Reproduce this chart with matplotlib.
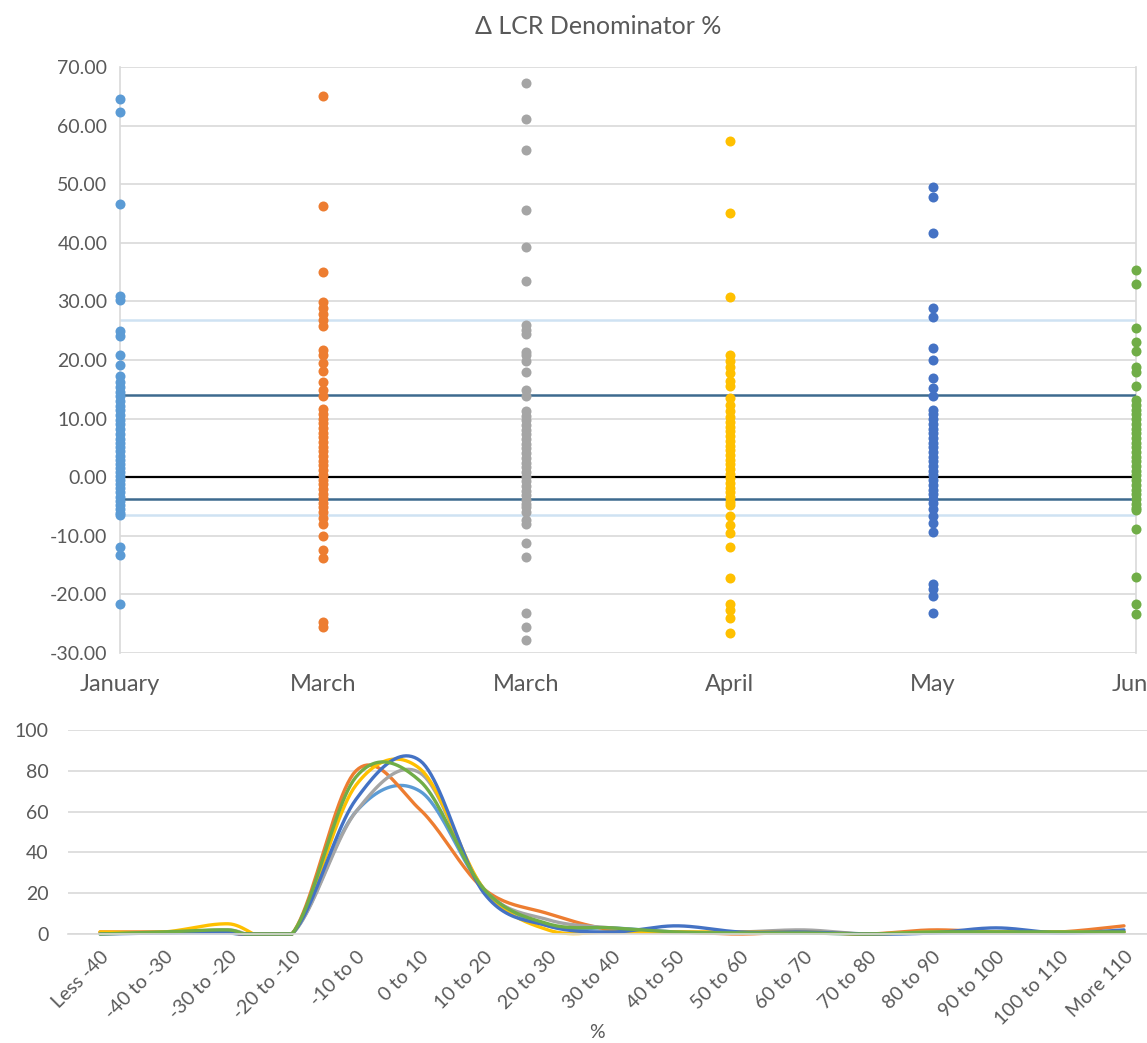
import numpy as np
import matplotlib.pyplot as plt

plt.rcParams['font.family'] = ['Lato', 'DejaVu Sans']

# top chart: one strip of points per month
months = ['January', 'March', 'March', 'April', 'May', 'June']
month_colors = ['#5B9BD5', '#ED7D31', '#A5A5A5', '#FFC000', '#4472C4', '#70AD47']

jan = [64.6, 62.3, 46.6, 31.0, 30.3, 25.0, 24.1, 20.8, 19.2, 17.2, 16.2, 15.4, 14.6, 13.8,
       13.0, 12.2, 11.4, 10.6, 9.8, 9.0, 8.2, 7.4, 6.6, 5.8, 5.1, 4.4, 3.7, 3.0, 2.3, 1.6,
       0.9, 0.2, -0.5, -1.2, -1.9, -2.6, -3.3, -4.0, -4.7, -5.4, -6.1, -6.4, -11.9, -13.3, -21.7]
mar1 = [65.1, 46.3, 35.1, 29.9, 28.9, 27.9, 26.9, 25.8, 21.7, 20.8, 19.5, 18.2, 16.2, 14.9,
        13.9, 11.6, 10.8, 10.0, 9.2, 8.4, 7.6, 6.8, 6.0, 5.2, 4.4, 3.6, 2.8, 2.0, 1.2, 0.4,
        -0.4, -1.2, -2.0, -2.8, -3.6, -4.4, -5.0, -6.0, -7.0, -8.0, -10.1, -12.5, -13.8, -24.7, -25.6]
mar2 = [67.3, 61.2, 55.9, 45.6, 39.3, 33.4, 26.0, 25.2, 24.4, 21.4, 20.8, 19.8, 18.0, 14.9,
        13.9, 11.3, 10.5, 9.7, 8.9, 8.1, 7.3, 6.5, 5.7, 4.9, 4.1, 3.3, 2.5, 1.7, 0.9, 0.1,
        -0.7, -1.5, -2.3, -3.1, -3.9, -4.6, -5.0, -6.0, -7.3, -8.0, -11.2, -13.7, -23.1, -25.6, -27.7]
apr = [57.3, 45.1, 30.7, 20.8, 19.8, 18.8, 17.7, 16.5, 15.5, 13.6, 12.3, 11.3, 10.2, 9.4,
       8.6, 7.8, 7.0, 6.2, 5.4, 4.6, 3.8, 3.0, 2.2, 1.4, 0.6, -0.2, -1.0, -1.8, -2.6, -3.4,
       -4.2, -4.7, -6.7, -8.2, -9.6, -11.9, -17.2, -21.7, -22.6, -24.1, -26.6]
may = [49.5, 47.9, 41.6, 28.9, 27.4, 22.0, 20.0, 16.9, 15.2, 13.8, 11.5, 10.7, 9.9, 9.1,
       8.3, 7.5, 6.7, 5.9, 5.1, 4.3, 3.5, 2.7, 1.9, 1.1, 0.3, -0.5, -1.3, -2.1, -2.9, -3.7,
       -4.4, -5.5, -6.6, -7.8, -9.4, -18.3, -19.1, -20.3, -23.2]
jun = [35.3, 32.9, 25.4, 23.0, 21.6, 18.8, 17.9, 15.5, 13.1, 12.3, 11.5, 10.7, 9.9, 9.1,
       8.3, 7.5, 6.7, 5.9, 5.1, 4.3, 3.5, 2.7, 1.9, 1.1, 0.3, -0.5, -1.3, -2.1, -2.9, -3.7,
       -4.5, -5.2, -5.6, -8.9, -17.0, -21.6, -23.3]
strips = [jan, mar1, mar2, apr, may, jun]

# reference levels
outer_band = [26.8, -6.5]
inner_band = [14.0, -3.7]
zero_level = 0.0
zero_tick_cols = [2, 5, 6]

# bottom chart: frequency per bin
bins = ['Less -40', '-40 to -30', '-30 to -20', '-20 to -10', '-10 to 0', '0 to 10',
        '10 to 20', '20 to 30', '30 to 40', '40 to 50', '50 to 60', '60 to 70',
        '70 to 80', '80 to 90', '90 to 100', '100 to 110', 'More 110']
freq_jan = [0.5, 0.5, 0.5, 0, 60, 70, 22, 4, 3, 1, 0.5, 0.5, 0, 0.5, 0.5, 0.5, 1]
freq_mar1 = [1, 1, 1, 0, 80, 61, 22, 10, 2, 1, 0, 1, 0, 2, 1, 1, 4]
freq_mar2 = [0.5, 0.5, 2, 0, 60, 79, 22, 7, 3, 1, 1, 2, 0, 1, 1, 1, 1]
freq_apr = [1, 1, 5, 0, 73, 81, 22, 2, 1, 1, 1, 1, 0, 1, 1, 1, 1]
freq_may = [0, 0.5, 1, 0, 66, 85, 20, 4, 1, 4, 1, 1, 0, 0.5, 3, 0.5, 2]
freq_jun = [0, 1, 2, 0, 77, 75, 22, 5, 3, 1, 0.5, 0.5, 0, 1, 1, 1, 1]
freqs = [freq_jan, freq_mar1, freq_mar2, freq_apr, freq_may, freq_jun]


def smooth_line(values, steps=24):
    # Excel style smoothed line: cubic bezier through the points
    y = np.asarray(values, dtype=float)
    x = np.arange(len(y), dtype=float)
    yp = np.concatenate([[y[0]], y, [y[-1]]])
    xp = np.concatenate([[x[0]], x, [x[-1]]])
    t = np.linspace(0, 1, steps)
    xs, ys = [], []
    for i in range(len(y) - 1):
        p0x, p1x, p2x, p3x = xp[i], xp[i + 1], xp[i + 2], xp[i + 3]
        p0y, p1y, p2y, p3y = yp[i], yp[i + 1], yp[i + 2], yp[i + 3]
        c1x, c1y = p1x + (p2x - p0x) / 6, p1y + (p2y - p0y) / 6
        c2x, c2y = p2x - (p3x - p1x) / 6, p2y - (p3y - p1y) / 6
        bx = (1 - t)**3 * p1x + 3 * (1 - t)**2 * t * c1x + 3 * (1 - t) * t**2 * c2x + t**3 * p2x
        by = (1 - t)**3 * p1y + 3 * (1 - t)**2 * t * c1y + 3 * (1 - t) * t**2 * c2y + t**3 * p2y
        xs.append(bx)
        ys.append(by)
    # the curve should not dip under the axis
    return np.concatenate(xs), np.maximum(np.concatenate(ys), 0)


text_color = '#595959'
grid_color = '#d9d9d9'

fig = plt.figure(figsize=(11.47, 10.43), dpi=100)

# ---- top: strips ----
ax = fig.add_axes([120 / 1147, 1 - 653 / 1043, 1016 / 1147, 586 / 1043])
positions = np.arange(1, len(months) + 1)
for pos, vals, col in zip(positions, strips, month_colors):
    ax.scatter(np.full(len(vals), pos), vals, s=52, color=col, linewidths=0,
               zorder=5, clip_on=False)

for lvl in outer_band:
    ax.axhline(lvl, color='#cfe2f3', lw=1.8, zorder=2)
for lvl in inner_band:
    ax.axhline(lvl, color='#3d6a8f', lw=1.8, zorder=3)
ax.axhline(zero_level, color='black', lw=1.6, zorder=3)
ax.vlines(zero_tick_cols, zero_level - 0.9, zero_level, color='black', lw=1.6, zorder=3)

ax.set_xlim(1, 6)
ax.set_ylim(-30, 70)
ax.set_yticks(np.arange(-30, 71, 10))
ax.set_yticklabels([f'{v:.2f}' for v in np.arange(-30, 71, 10)])
ax.set_xticks(positions)
ax.set_xticklabels(months)
ax.yaxis.grid(True, color=grid_color, lw=1.2, zorder=0)
ax.set_axisbelow(True)
for side in ['top', 'bottom']:
    ax.spines[side].set_visible(False)
for side in ['left', 'right']:
    ax.spines[side].set_color(grid_color)
    ax.spines[side].set_linewidth(1.2)
ax.tick_params(axis='both', length=0, labelcolor=text_color)
ax.tick_params(axis='y', pad=9, labelsize=14)
ax.tick_params(axis='x', pad=15, labelsize=17)

fig.text(598 / 1147, 1 - 27 / 1043, 'Δ LCR Denominator %', ha='center', va='center',
         fontsize=18, color=text_color)

# ---- bottom: distribution ----
ax2 = fig.add_axes([68 / 1147, 1 - 934 / 1043, 1088 / 1147, 204 / 1043])
for vals, col in zip(freqs, month_colors):
    sx, sy = smooth_line(vals)
    ax2.plot(sx, sy, color=col, lw=2.4, solid_capstyle='round', clip_on=False)

ax2.set_xlim(-0.5, len(bins) - 0.5)
ax2.set_ylim(0, 100)
ax2.set_yticks(np.arange(0, 101, 20))
ax2.set_xticks(np.arange(len(bins)))
ax2.set_xticklabels(bins, rotation=45, ha='right', rotation_mode='anchor')
ax2.yaxis.grid(True, color=grid_color, lw=1.2, zorder=0)
ax2.set_axisbelow(True)
for side in ['top', 'left', 'right']:
    ax2.spines[side].set_visible(False)
ax2.spines['bottom'].set_color(grid_color)
ax2.spines['bottom'].set_linewidth(1.2)
ax2.tick_params(axis='both', length=0, labelcolor=text_color, labelsize=14)
ax2.tick_params(axis='y', pad=14)
ax2.tick_params(axis='x', pad=10)

fig.text(597 / 1147, 1 - 1033 / 1043, '%', ha='center', va='center',
         fontsize=14, color=text_color)

fig.savefig('out.png', dpi=100)
